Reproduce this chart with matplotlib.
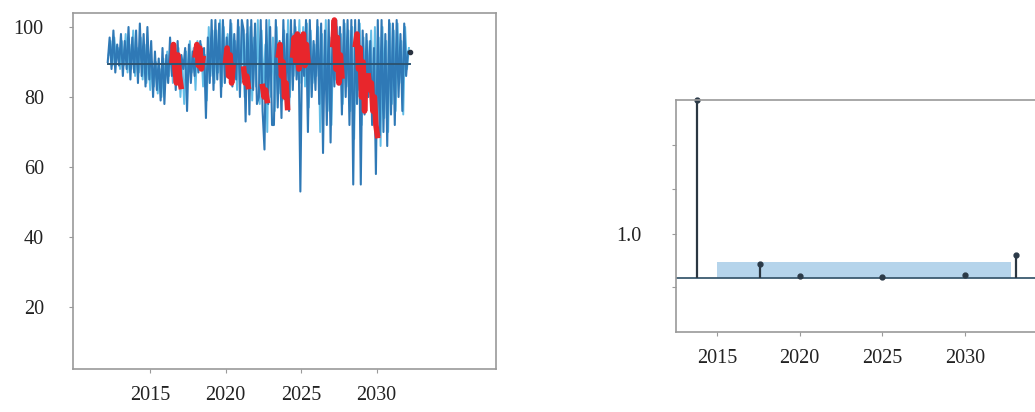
import numpy as np
import matplotlib
matplotlib.use("Agg")
import matplotlib.pyplot as plt

# ---------------- data ----------------
t_start = 2012.2
t_step = 0.125
series = [
    90, 97, 88, 99, 87, 95, 89, 98,      # 2012.2
    86, 96, 88, 100, 85, 97, 87, 99,     # 2013.2
    84, 101, 86, 98, 83, 100, 85, 96,    # 2014.2
    80, 93, 82, 91, 79, 94, 78, 92,      # 2015.2
    84, 97, 86, 95, 82, 96, 83, 92,      # 2016.2
    88, 94, 76, 95, 84, 93, 86, 95,      # 2017.2
    87, 96, 88, 94, 74, 97, 84, 102,     # 2018.2
    82, 102, 85, 101, 80, 102, 84, 97,   # 2019.2
    86, 102, 83, 98, 85, 102, 80, 102,   # 2020.2
    99, 73, 102, 75, 102, 82, 101, 78,   # 2021.2
    80, 102, 76, 65, 102, 78, 100, 72,   # 2022.2
    72, 102, 77, 96, 74, 102, 80, 98,    # 2023.2
    76, 102, 82, 102, 85, 97, 53, 98,    # 2024.2
    86, 102, 70, 102, 80, 96, 82, 102,   # 2025.2
    78, 101, 64, 99, 72, 102, 67, 98,    # 2026.2
    83, 102, 86, 100, 75, 102, 80, 102,  # 2027.2
    72, 102, 55, 102, 78, 102, 55, 99,   # 2028.2
    75, 98, 80, 96, 72, 94, 58, 102,     # 2029.2
    69, 102, 70, 98, 66, 102, 75, 101,   # 2030.2
    72, 102, 80, 98, 76, 101, 86, 93,    # 2031.2
    93,                                  # 2032.2
]
light_start = 2012.26
series_light = [
    92, 96, 89, 97, 90, 94, 88, 96,      # 2012.26
    89, 98, 87, 95, 88, 99, 86, 94,      # 2013.26
    87, 97, 85, 95, 84, 92, 82, 90,      # 2014.26
    83, 90, 81, 88, 80, 91, 84, 93,      # 2015.26
    86, 95, 84, 93, 85, 94, 80, 90,      # 2016.26
    78, 93, 85, 96, 87, 94, 82, 96,      # 2017.26
    88, 95, 83, 92, 79, 100, 86, 99,     # 2018.26
    84, 99, 87, 102, 83, 100, 86, 98,    # 2019.26
    88, 101, 85, 96, 82, 100, 84, 99,    # 2020.26
    80, 98, 84, 100, 79, 97, 83, 102,    # 2021.26
    78, 99, 82, 95, 70, 102, 80, 97,     # 2022.26
    76, 100, 81, 94, 79, 99, 83, 102,    # 2023.26
    80, 98, 86, 100, 88, 102, 84, 100,   # 2024.26
    83, 101, 77, 99, 84, 95, 86, 100,    # 2025.26
    70, 98, 81, 102, 76, 97, 72, 101,    # 2026.26
    85, 100, 88, 98, 78, 101, 83, 99,    # 2027.26
    76, 100, 68, 98, 82, 101, 72, 97,    # 2028.26
    79, 96, 84, 99, 76, 100, 70, 97,     # 2029.26
    66, 100, 74, 96, 70, 101, 78, 99,    # 2030.26
    76, 101, 84, 96, 75, 100, 88, 94,    # 2031.26
]
mean_level = 89.5

red_step = 0.1
red_starts = [2016.45, 2018.0, 2020.0, 2021.2, 2022.45, 2023.5, 2024.45,
              2027.1, 2028.6, 2029.45]
red_values = [
    [90, 95, 88, 84, 92, 86, 83],
    [92, 95, 89, 94, 88, 91],
    [90, 94, 86, 92, 84, 89],
    [88, 84, 86, 83],
    [83, 80, 82, 79],
    [92, 95, 86, 90, 80, 84, 77],
    [92, 97, 90, 98, 88, 97, 91, 98, 89, 95, 90],
    [95, 102, 88, 97, 84, 92, 86],
    [95, 98, 88, 94, 80, 90, 76, 86],
    [86, 82, 84, 76, 80, 72, 69],
]

left_yticks = [20, 40, 60, 80, 100]
x_ticks = [2015, 2020, 2025, 2030]

acf_x = [2013.8, 2017.6, 2020.0, 2025.0, 2030.0, 2033.1]
acf_y = [1.0, 0.08, 0.012, 0.006, 0.015, 0.13]
band_x = [2015.0, 2032.8]
band_hi = 0.09
right_yticks = [-0.05, 0.25, 0.5, 0.75]
right_ylabels = ["", "1.0", "", ""]

# ---------------- figure ----------------
W, H = 1035, 412
fig = plt.figure(figsize=(W / 100, H / 100), dpi=100)
plt.rcParams['font.family'] = ['Liberation Serif', 'DejaVu Serif']
text_col = "#222222"
spine_col = "#9a9a9a"
fs = 14.5

t = t_start + t_step * np.arange(len(series))
y = np.array(series, dtype=float)
tl = light_start + t_step * np.arange(len(series_light))
yl = np.array(series_light, dtype=float)

# left axes
ax1 = fig.add_axes([73 / W, 1 - 369 / H, (496 - 73) / W, (369 - 13) / H])
ax1.plot(tl, yl, color="#62bde6", lw=1.4, zorder=2)
ax1.plot(t, y, color="#2f79b6", lw=1.5, zorder=3)
for s0, vals in zip(red_starts, red_values):
    rt = s0 + red_step * np.arange(len(vals))
    ax1.plot(rt, vals, color="#e8262c", lw=4.0, zorder=4)
ax1.plot([t[0], t[-1]], [mean_level, mean_level], color="#2c5573", lw=1.4, zorder=5)
ax1.plot([t[-1]], [y[-1]], 'o', color="#2a3340", ms=3, zorder=6)
ax1.set_xlim(2009.9, 2037.9)
ax1.set_ylim(2.3, 104)
ax1.set_yticks(left_yticks)
ax1.set_xticks(x_ticks)
ax1.tick_params(axis='y', length=3, pad=18, labelsize=fs, colors=spine_col,
                labelcolor=text_col)
ax1.tick_params(axis='x', length=3, pad=9, labelsize=fs, colors=spine_col,
                labelcolor=text_col)
for s in ax1.spines.values():
    s.set_color(spine_col)
    s.set_linewidth(1.2)

# right axes
ax2 = fig.add_axes([676 / W, 1 - 332 / H, (W - 676) / W, (332 - 100) / H])
ax2.set_xlim(2012.52, 2034.23)
ax2.set_ylim(-0.303, 1.0)
ax2.fill_between(band_x, 0, band_hi, color="#a8cde8", alpha=0.85, lw=0, zorder=1)
ax2.axhline(0, color="#3b5a70", lw=1.3, zorder=2)
ml, sl, bl = ax2.stem(acf_x, acf_y, linefmt='-', markerfmt='o', basefmt=' ')
plt.setp(sl, color="#2b3742", lw=1.6)
plt.setp(ml, color="#2b3a48", ms=3.5)
ml.set_clip_on(False)
ax2.set_xticks(x_ticks)
ax2.set_yticks(right_yticks)
ax2.set_yticklabels(right_ylabels)
ax2.tick_params(axis='y', length=3, pad=22, labelsize=fs, colors=spine_col,
                labelcolor=text_col)
ax2.tick_params(axis='x', length=3, pad=9, labelsize=fs, colors=spine_col,
                labelcolor=text_col)
for s in ax2.spines.values():
    s.set_color(spine_col)
    s.set_linewidth(1.2)
ax2.spines['right'].set_visible(False)

fig.savefig("out.png", dpi=100, facecolor="white")
